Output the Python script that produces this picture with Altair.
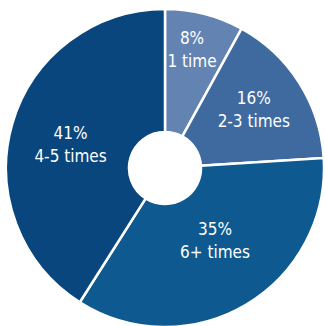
import altair as alt
import pandas as pd

categories = ["1 time", "2-3 times", "6+ times", "4-5 times"]
percents = [8, 16, 35, 41]
colors = ["#6383b3", "#3e6aa0", "#0e5990", "#0a467e"]

df = pd.DataFrame({
    "cat": categories,
    "pct": percents,
    "idx": list(range(len(categories))),
})

# label placement per slice: (distance from centre px, angle tweak deg) -- layout only
label_pos = {"1 time": (121, -1.5), "2-3 times": (106, -0.7),
             "6+ times": (89, -3.6), "4-5 times": (97, -3.0)}
r_expr = " : ".join(f"datum.cat === '{k}' ? {v[0]}" for k, v in label_pos.items()) + " : 100"
a_expr = " : ".join(f"datum.cat === '{k}' ? {v[1]}" for k, v in label_pos.items()) + " : 0"

CX, CY = 165, 168
FONT = "DejaVu Sans Condensed, Liberation Sans Narrow, sans-serif"
LH = 23

arcs = alt.Chart(df).mark_arc(
    outerRadius=159, innerRadius=36, stroke="white", strokeWidth=2.5
).encode(
    theta=alt.Theta("pct:Q", stack=True),
    order=alt.Order("idx:Q"),
    x=alt.value(CX),
    y=alt.value(CY),
    color=alt.Color("cat:N", scale=alt.Scale(domain=categories, range=colors), legend=None),
)

texts = alt.Chart(df).transform_joinaggregate(
    total="sum(pct)"
).transform_window(
    cum="sum(pct)", sort=[alt.SortField("idx")], frame=[None, 0]
).transform_calculate(
    ang=f"2 * PI * (datum.cum - datum.pct / 2) / datum.total + ({a_expr}) * PI / 180",
    r=r_expr,
).transform_calculate(
    px=f"{CX} + datum.r * sin(datum.ang)",
    py=f"{CY} - datum.r * cos(datum.ang) - {LH / 2}",
    label="[datum.pct + '%', datum.cat]",
).mark_text(
    color="white", font=FONT, fontSize=17, lineHeight=LH,
    align="center", baseline="middle",
).encode(
    text="label:N",
    x=alt.X("px:Q", scale=None, axis=None),
    y=alt.Y("py:Q", scale=None, axis=None),
)

chart = alt.layer(arcs, texts).properties(
    width=325, height=326, padding=0, autosize="none"
).configure_view(stroke=None)

chart.save("out.html", embed_options={"renderer": "svg", "actions": False})
